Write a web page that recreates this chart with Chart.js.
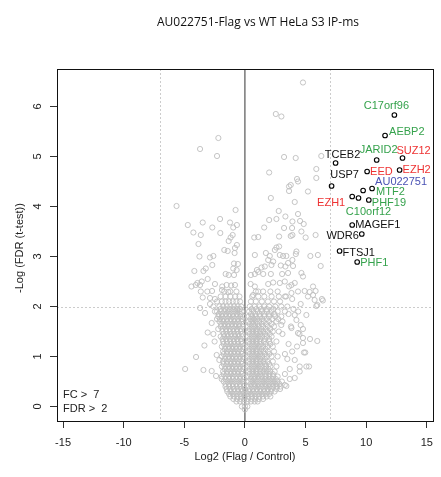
<!DOCTYPE html>
<html>
<head>
<meta charset="utf-8">
<script src="https://cdn.jsdelivr.net/npm/chart.js@4.4.0/dist/chart.umd.min.js"></script>
<style>
html,body{margin:0;padding:0;background:#fff;}
#grafico{display:block;}
</style>
</head>
<body>
<canvas id="grafico" width="441" height="477"></canvas>
<script>
// ****************** DATOS ******************
var tituloGrafico = "AU022751-Flag vs WT HeLa S3 IP-ms";
var tituloX = "Log2 (Flag / Control)";
var tituloY = "-Log (FDR (t-test))";
var xTicks = [-15, -10, -5, 0, 5, 10, 15];
var yTicks = [0, 1, 2, 3, 4, 5, 6];
var fcCorte = 7;
var fdrCorte = 2;

// proteinas destacadas
var hitNames  = ["C17orf96","AEBP2","JARID2","SUZ12","TCEB2","EED","EZH2","USP7","MTF2","AU022751","EZH1","C10orf12","PHF19","MAGEF1","WDR6","FTSJ1","PHF1"];
var hitX      = [12.33, 11.56, 10.87, 13.0, 7.48, 10.08, 12.76, 7.15, 10.49, 9.75, 8.85, 9.37, 10.22, 8.85, 9.64, 7.81, 9.26];
var hitY      = [5.83, 5.42, 4.93, 4.97, 4.87, 4.70, 4.73, 4.41, 4.36, 4.32, 4.20, 4.17, 4.13, 3.63, 3.45, 3.11, 2.89];
var hitGroups = ["verde","verde","verde","rojo","negro","rojo","rojo","negro","verde","azul","rojo","verde","verde","negro","negro","negro","verde"];

// resto de proteinas (puntos dispersos)
var scatterPoints = [
  [4.79,6.48],[2.55,5.85],[3.01,5.80],[-2.19,5.37],[-3.70,5.15],[-2.30,5.01],[3.23,4.99],[4.19,4.97],[6.30,5.01],
  [2.0,4.68],[5.89,4.75],[5.89,4.57],[4.30,4.55],[4.38,4.50],[3.78,4.43],[3.64,4.40],
  [-5.64,4.01],[-4.71,3.63],[-3.48,3.68],[-4.25,3.48],[-3.64,3.43],[-2.69,3.58],[-2.05,3.75],[-2.03,3.47],
  [-1.23,3.68],[-0.96,3.58],[-0.66,3.63],[-0.77,3.93],[-1.01,3.43],
  [3.64,4.31],[5.2,4.30],[2.14,4.17],[4.11,4.09],[2.79,3.91],[3.34,3.80],[4.38,3.85],[2.0,3.73],[2.6,3.75],
  [3.92,3.70],[4.55,3.71],[4.85,3.65],[1.59,3.58],[3.23,3.57],[3.89,3.57],[3.92,3.43],[4.66,3.50],[5.83,3.43],
  [5.01,3.38],[0.77,3.38],[1.10,3.39],[2.82,3.40],[3.78,3.41],[2.6,3.18],[2.82,3.20],[2.47,3.13],[1.73,3.07],
  [2.05,3.01],[2.88,3.03],[3.15,3.01],[3.42,3.01],[4.25,3.10],[4.2,3.05],[0.82,3.03],[5.40,3.01],[6.02,3.03],
  [1.92,2.93],[2.33,2.90],[3.92,2.93],[3.56,2.87],[1.37,2.78],[1.64,2.80],[0.99,2.73],[1.10,2.69],[2.19,2.83],
  [2.96,2.82],[3.34,2.80],[3.97,2.81],[6.25,2.81],[0.49,2.63],[0.82,2.65],[1.51,2.65],[2.14,2.65],[3.07,2.65],
  [3.56,2.67],[4.66,2.67],[4.79,2.60],[0.47,2.45],[0.82,2.40],[1.92,2.45],[2.33,2.48],[2.88,2.47],[3.29,2.50],
  [3.84,2.43],[4.11,2.47],[3.64,2.40],[5.62,2.40],[4.93,2.31],[5.34,2.29],[5.83,2.31],[4.38,2.30],[3.84,2.27],
  [6.35,2.15],[5.75,2.13],[5.20,2.20],[1.1,2.3],[0.68,2.23],[5.89,2.01],[5.62,2.23],[6.43,2.12],
  [-1.18,3.38],[-1.34,3.31],[-3.83,3.25],[-0.66,3.23],[-0.82,3.17],[-1.70,3.13],[-1.42,3.11],[-0.85,3.07],
  [-3.75,3.0],[-2.60,3.01],[-2.88,2.98],[-2.69,2.83],[-0.90,2.86],[-0.58,2.85],[-3.23,2.76],[-3.42,2.71],
  [-4.17,2.71],[-0.96,2.76],[-0.68,2.73],[-1.59,2.65],[-1.34,2.63],[-0.90,2.63],[-3.07,2.55],[-3.56,2.50],
  [-3.92,2.47],[-4.41,2.40],[-4.05,2.43],[-3.70,2.43],[-2.47,2.45],[-1.87,2.40],[-1.51,2.43],[-1.13,2.42],
  [-0.82,2.43],[-3.10,2.30],[-3.64,2.30],[-2.71,2.31],[-1.89,2.33],[-1.37,2.29],[-3.48,2.18],[-2.88,2.17],[-2.47,2.15],
  [-3.70,1.97],[-3.29,1.87],[-2.74,1.67],[-3.07,1.48],[-2.60,1.45],[-3.34,1.22],[-4.03,0.99],[-4.93,0.75],
  [-3.42,0.73],[-2.74,0.71],[-2.38,0.61],[-1.92,0.55],[-2.33,1.03],[-2.11,0.93],[-2.47,1.90],[-2.88,2.05],
  [-2.5,1.3],[-2.2,1.55],[-2.3,1.75],[-2.6,2.0],
  [5.97,2.03],[5.37,1.35],[5.97,1.31],[4.87,1.08],[4.98,1.08],[5.07,0.80],[5.29,0.80],[4.52,0.80],[4.52,0.70],
  [4.79,1.55],[4.6,1.63],[5.07,1.83],[4.25,1.73],[4.79,1.27],[4.11,0.93],[4.11,0.57],[3.42,0.41],[3.29,0.43],
  [4.79,1.37],[4.4,1.9],[4.0,1.95],[3.8,1.6],[3.6,1.25],[3.9,1.1],[3.5,0.95],[3.7,0.75],[3.3,0.65],[4.3,1.2],
  [4.5,1.45],[3.6,1.85],[3.9,2.15],[4.6,2.05],[3.3,2.2],[3.1,1.45],[3.3,1.05],[2.9,0.35],[3.7,0.55],
  [3.0,1.63],[3.84,1.57],[4.38,1.47],[4.11,1.83]
];

// nube densa cerca del origen, fila por fila
var corePoints = [
  [0.0,-0.06],[-0.25,0.0],[0.0,0.0],[0.2,0.0],
  [-0.7,0.1],[-0.4,0.1],[-0.1,0.1],[0.2,0.1],[0.5,0.1],[0.8,0.1],[1.05,0.1],
  [-1.2,0.2],[-0.9,0.2],[-0.6,0.2],[-0.3,0.2],[0.0,0.2],[0.3,0.2],[0.6,0.2],[0.9,0.2],[1.2,0.2],[1.5,0.2],[1.8,0.2],[2.1,0.2],
  [-1.45,0.3],[-1.15,0.3],[-0.85,0.3],[-0.55,0.3],[-0.25,0.3],[0.05,0.3],[0.35,0.3],[0.65,0.3],[0.95,0.3],[1.25,0.3],[1.55,0.3],[1.85,0.3],[2.15,0.3],[2.45,0.3],
  [-1.6,0.4],[-1.3,0.4],[-1.0,0.4],[-0.7,0.4],[-0.4,0.4],[-0.1,0.4],[0.25,0.4],[0.55,0.4],[0.85,0.4],[1.15,0.4],[1.45,0.4],[1.75,0.4],[2.05,0.4],[2.35,0.4],[2.65,0.4],[2.95,0.4],
  [-1.75,0.5],[-1.45,0.5],[-1.15,0.5],[-0.85,0.5],[-0.55,0.5],[-0.25,0.5],[0.3,0.5],[0.6,0.5],[0.9,0.5],[1.2,0.5],[1.5,0.5],[1.8,0.5],[2.1,0.5],[2.4,0.5],[2.7,0.5],[3.05,0.5],
  [-1.9,0.6],[-1.6,0.6],[-1.3,0.6],[-1.0,0.6],[-0.7,0.6],[-0.4,0.6],[-0.12,0.6],[0.25,0.6],[0.55,0.6],[0.85,0.6],[1.15,0.6],[1.45,0.6],[1.75,0.6],[2.05,0.6],[2.35,0.6],[2.7,0.6],
  [-1.8,0.7],[-1.5,0.7],[-1.2,0.7],[-0.9,0.7],[-0.6,0.7],[-0.3,0.7],[0.3,0.7],[0.6,0.7],[0.9,0.7],[1.2,0.7],[1.5,0.7],[1.8,0.7],[2.1,0.7],[2.45,0.7],
  [-1.9,0.8],[-1.6,0.8],[-1.3,0.8],[-1.0,0.8],[-0.7,0.8],[-0.4,0.8],[-0.12,0.8],[0.25,0.8],[0.55,0.8],[0.85,0.8],[1.15,0.8],[1.45,0.8],[1.75,0.8],[2.1,0.8],[2.6,0.8],
  [-1.8,0.9],[-1.5,0.9],[-1.2,0.9],[-0.9,0.9],[-0.6,0.9],[-0.3,0.9],[0.3,0.9],[0.6,0.9],[0.9,0.9],[1.2,0.9],[1.5,0.9],[1.85,0.9],[2.3,0.9],
  [-1.9,1.0],[-1.6,1.0],[-1.3,1.0],[-1.0,1.0],[-0.7,1.0],[-0.4,1.0],[-0.12,1.0],[0.25,1.0],[0.55,1.0],[0.85,1.0],[1.15,1.0],[1.45,1.0],[1.8,1.0],[2.2,1.0],[2.7,1.0],
  [-1.8,1.1],[-1.5,1.1],[-1.2,1.1],[-0.9,1.1],[-0.6,1.1],[-0.3,1.1],[0.3,1.1],[0.6,1.1],[0.9,1.1],[1.2,1.1],[1.5,1.1],[1.9,1.1],[2.4,1.1],
  [-1.9,1.2],[-1.6,1.2],[-1.3,1.2],[-1.0,1.2],[-0.7,1.2],[-0.4,1.2],[-0.12,1.2],[0.25,1.2],[0.55,1.2],[0.85,1.2],[1.15,1.2],[1.5,1.2],[1.85,1.2],[2.3,1.2],
  [-1.8,1.3],[-1.5,1.3],[-1.2,1.3],[-0.9,1.3],[-0.6,1.3],[-0.3,1.3],[0.3,1.3],[0.6,1.3],[0.9,1.3],[1.2,1.3],[1.55,1.3],[2.0,1.3],[2.6,1.3],
  [-2.0,1.4],[-1.7,1.4],[-1.4,1.4],[-1.1,1.4],[-0.8,1.4],[-0.5,1.4],[-0.2,1.4],[0.25,1.4],[0.55,1.4],[0.85,1.4],[1.15,1.4],[1.45,1.4],[1.8,1.4],[2.2,1.4],
  [-1.85,1.5],[-1.55,1.5],[-1.25,1.5],[-0.95,1.5],[-0.65,1.5],[-0.35,1.5],[0.3,1.5],[0.6,1.5],[0.9,1.5],[1.2,1.5],[1.5,1.5],[1.85,1.5],[2.3,1.5],[2.8,1.5],
  [-2.0,1.6],[-1.7,1.6],[-1.4,1.6],[-1.1,1.6],[-0.8,1.6],[-0.5,1.6],[-0.2,1.6],[0.25,1.6],[0.55,1.6],[0.85,1.6],[1.15,1.6],[1.5,1.6],[1.9,1.6],[2.4,1.6],
  [-2.1,1.7],[-1.8,1.7],[-1.5,1.7],[-1.2,1.7],[-0.9,1.7],[-0.6,1.7],[-0.3,1.7],[0.3,1.7],[0.6,1.7],[0.9,1.7],[1.2,1.7],[1.55,1.7],[2.0,1.7],[2.6,1.7],[3.1,1.7],
  [-2.2,1.8],[-1.9,1.8],[-1.6,1.8],[-1.3,1.8],[-1.0,1.8],[-0.7,1.8],[-0.4,1.8],[-0.15,1.8],[0.3,1.8],[0.6,1.8],[0.9,1.8],[1.25,1.8],[1.6,1.8],[2.0,1.8],[2.5,1.8],[3.0,1.8],
  [-2.3,1.9],[-2.0,1.9],[-1.7,1.9],[-1.4,1.9],[-1.1,1.9],[-0.8,1.9],[-0.5,1.9],[-0.25,1.9],[0.35,1.9],[0.7,1.9],[1.05,1.9],[1.4,1.9],[1.8,1.9],[2.2,1.9],[2.7,1.9],[3.3,1.9],
  [-2.1,2.0],[-1.8,2.0],[-1.5,2.0],[-1.2,2.0],[-0.9,2.0],[-0.6,2.0],[-0.3,2.0],[0.4,2.0],[0.8,2.0],[1.2,2.0],[1.6,2.0],[2.0,2.0],[2.5,2.0],[3.0,2.0],[3.5,2.0],
  [-2.3,2.1],[-1.9,2.1],[-1.6,2.1],[-1.3,2.1],[-1.0,2.1],[-0.7,2.1],[-0.4,2.1],[0.5,2.1],[0.9,2.1],[1.4,2.1],[1.9,2.1],[2.4,2.1],[2.9,2.1],
  [-2.0,2.2],[-1.6,2.2],[-1.2,2.2],[-0.8,2.2],[-0.45,2.2],[0.6,2.2],[1.1,2.2],[1.6,2.2],[2.2,2.2],[2.8,2.2],[3.4,2.2],
  [-1.7,2.3],[-1.2,2.3],[-0.7,2.3],[0.9,2.3],[1.5,2.3],[2.1,2.3],[2.7,2.3]
];

// segunda capa de la nube, entre las filas anteriores
var coreFill = [
  [-0.95,0.15],[-0.65,0.15],[-0.35,0.15],[-0.05,0.15],[0.25,0.15],[0.55,0.15],[0.85,0.15],[1.15,0.15],[1.5,0.15],
  [-1.3,0.25],[-1.0,0.25],[-0.7,0.25],[-0.4,0.25],[-0.1,0.25],[0.2,0.25],[0.5,0.25],[0.8,0.25],[1.1,0.25],[1.4,0.25],[1.7,0.25],[2.0,0.25],
  [-1.5,0.35],[-1.2,0.35],[-0.9,0.35],[-0.6,0.35],[-0.3,0.35],[0.0,0.35],[0.4,0.35],[0.7,0.35],[1.0,0.35],[1.3,0.35],[1.6,0.35],[1.9,0.35],[2.2,0.35],[2.6,0.35],
  [-1.6,0.45],[-1.3,0.45],[-1.0,0.45],[-0.7,0.45],[-0.4,0.45],[-0.1,0.45],[0.45,0.45],[0.75,0.45],[1.05,0.45],[1.35,0.45],[1.65,0.45],[1.95,0.45],[2.25,0.45],[2.55,0.45],[2.85,0.45],
  [-1.6,0.55],[-1.3,0.55],[-1.0,0.55],[-0.7,0.55],[-0.4,0.55],[-0.1,0.55],[0.45,0.55],[0.75,0.55],[1.05,0.55],[1.35,0.55],[1.65,0.55],[1.95,0.55],[2.25,0.55],[2.55,0.55],
  [-1.75,0.65],[-1.45,0.65],[-1.15,0.65],[-0.85,0.65],[-0.55,0.65],[-0.25,0.65],[0.4,0.65],[0.7,0.65],[1.0,0.65],[1.3,0.65],[1.65,0.65],[2.0,0.65],[2.3,0.65],
  [-1.65,0.75],[-1.35,0.75],[-1.05,0.75],[-0.75,0.75],[-0.45,0.75],[-0.15,0.75],[0.4,0.75],[0.7,0.75],[1.0,0.75],[1.3,0.75],[1.65,0.75],[1.95,0.75],
  [-1.75,0.85],[-1.45,0.85],[-1.15,0.85],[-0.85,0.85],[-0.55,0.85],[-0.25,0.85],[0.4,0.85],[0.7,0.85],[1.0,0.85],[1.3,0.85],[1.65,0.85],[2.0,0.85],
  [-1.65,0.95],[-1.35,0.95],[-1.05,0.95],[-0.75,0.95],[-0.45,0.95],[-0.15,0.95],[0.4,0.95],[0.7,0.95],[1.0,0.95],[1.3,0.95],[1.65,0.95],
  [-1.75,1.05],[-1.45,1.05],[-1.15,1.05],[-0.85,1.05],[-0.55,1.05],[-0.25,1.05],[0.4,1.05],[0.7,1.05],[1.0,1.05],[1.3,1.05],[1.65,1.05],[2.0,1.05],
  [-1.65,1.15],[-1.35,1.15],[-1.05,1.15],[-0.75,1.15],[-0.45,1.15],[-0.15,1.15],[0.4,1.15],[0.7,1.15],[1.0,1.15],[1.35,1.15],[1.7,1.15],
  [-1.75,1.25],[-1.45,1.25],[-1.15,1.25],[-0.85,1.25],[-0.55,1.25],[-0.25,1.25],[0.4,1.25],[0.7,1.25],[1.0,1.25],[1.3,1.25],[1.7,1.25],[2.1,1.25],
  [-1.85,1.35],[-1.55,1.35],[-1.25,1.35],[-0.95,1.35],[-0.65,1.35],[-0.35,1.35],[0.4,1.35],[0.7,1.35],[1.0,1.35],[1.3,1.35],[1.65,1.35],[2.0,1.35],
  [-1.75,1.45],[-1.45,1.45],[-1.15,1.45],[-0.85,1.45],[-0.55,1.45],[-0.25,1.45],[0.4,1.45],[0.7,1.45],[1.0,1.45],[1.3,1.45],[1.65,1.45],[2.05,1.45],
  [-1.85,1.55],[-1.55,1.55],[-1.25,1.55],[-0.95,1.55],[-0.65,1.55],[-0.35,1.55],[0.4,1.55],[0.7,1.55],[1.0,1.55],[1.35,1.55],[1.7,1.55],[2.1,1.55],
  [-1.95,1.65],[-1.65,1.65],[-1.35,1.65],[-1.05,1.65],[-0.75,1.65],[-0.45,1.65],[-0.15,1.65],[0.4,1.65],[0.7,1.65],[1.05,1.65],[1.4,1.65],[1.75,1.65],[2.2,1.65],
  [-2.05,1.75],[-1.75,1.75],[-1.45,1.75],[-1.15,1.75],[-0.85,1.75],[-0.55,1.75],[-0.25,1.75],[0.45,1.75],[0.75,1.75],[1.05,1.75],[1.4,1.75],[1.8,1.75],[2.25,1.75],[2.75,1.75],
  [-2.15,1.85],[-1.85,1.85],[-1.55,1.85],[-1.25,1.85],[-0.95,1.85],[-0.65,1.85],[-0.35,1.85],[0.5,1.85],[0.85,1.85],[1.2,1.85],[1.6,1.85],[2.0,1.85],[2.45,1.85],
  [-2.0,1.95],[-1.6,1.95],[-1.25,1.95],[-0.95,1.95],[-0.65,1.95],[-0.4,1.95],[0.55,1.95],[0.95,1.95],[1.35,1.95],[1.8,1.95],[2.35,1.95]
];

// ****************** ESTILOS ******************
var coloresGrupo = { verde: "#35a24c", rojo: "#ee3131", azul: "#4a52b4", negro: "#111111" };
// desplazamiento de cada etiqueta respecto a su punto (px) y alineacion
var posEtiquetas = {
  "C17orf96": [-8, -9, "center"], "AEBP2": [4, -4, "left"], "JARID2": [2, -10, "center"],
  "SUZ12": [11, -7, "center"], "TCEB2": [7, -8, "center"], "EED": [3, 0, "left"],
  "EZH2": [3, 0, "left"], "USP7": [13, -11, "center"], "MTF2": [4, 3, "left"],
  "AU022751": [12, -9, "left"], "EZH1": [-7, 6, "right"], "C10orf12": [10, 14, "center"],
  "PHF19": [3, 3, "left"], "MAGEF1": [3, 0, "left"], "WDR6": [-3, 1.5, "right"],
  "FTSJ1": [3, 1.5, "left"], "PHF1": [3, 1, "left"]
};
var fuente = "'Liberation Sans', Arial, sans-serif";

function aPuntos(lista){
  return lista.map(function(p){ return {x: p[0], y: p[1]}; });
}
var hitPuntos = hitX.map(function(v, i){ return {x: v, y: hitY[i]}; });

// ****************** PLUGIN DE DECORACION ******************
var decorar = {
  id: "decorar",
  beforeDatasetsDraw: function(chart){
    var ctx = chart.ctx, a = chart.chartArea, sx = chart.scales.x, sy = chart.scales.y;
    ctx.save();
    ctx.beginPath(); ctx.rect(a.left, a.top, a.right - a.left, a.bottom - a.top); ctx.clip();
    ctx.strokeStyle = "#cccccc"; ctx.lineWidth = 1; ctx.setLineDash([2, 2]);
    [-fcCorte, fcCorte].forEach(function(v){
      var px = Math.round(sx.getPixelForValue(v)) + 0.5;
      ctx.beginPath(); ctx.moveTo(px, a.top); ctx.lineTo(px, a.bottom); ctx.stroke();
    });
    var py = Math.round(sy.getPixelForValue(fdrCorte)) + 0.5;
    ctx.beginPath(); ctx.moveTo(a.left, py); ctx.lineTo(a.right, py); ctx.stroke();
    ctx.setLineDash([]);
    ctx.strokeStyle = "#555555"; ctx.lineWidth = 1.2;
    var p0 = sx.getPixelForValue(0);
    ctx.beginPath(); ctx.moveTo(p0, a.top); ctx.lineTo(p0, a.bottom); ctx.stroke();
    ctx.restore();
  },
  afterDatasetsDraw: function(chart){
    var ctx = chart.ctx, sx = chart.scales.x, sy = chart.scales.y;
    ctx.save();
    ctx.font = "11px " + fuente;
    ctx.textBaseline = "middle";
    for (var i = 0; i < hitNames.length; i++){
      var pos = posEtiquetas[hitNames[i]];
      ctx.fillStyle = coloresGrupo[hitGroups[i]];
      ctx.textAlign = pos[2];
      ctx.fillText(hitNames[i], sx.getPixelForValue(hitX[i]) + pos[0], sy.getPixelForValue(hitY[i]) + pos[1]);
    }
    ctx.restore();
  },
  afterDraw: function(chart){
    var ctx = chart.ctx, a = chart.chartArea, sy = chart.scales.y;
    ctx.save();
    // caja
    ctx.strokeStyle = "#111"; ctx.lineWidth = 1;
    ctx.strokeRect(Math.round(a.left) + 0.5, Math.round(a.top) + 0.5, Math.round(a.right - a.left), Math.round(a.bottom - a.top));
    // titulo
    ctx.fillStyle = "#111";
    ctx.font = "12px 'Open Sans', sans-serif";
    ctx.textAlign = "center"; ctx.textBaseline = "middle";
    ctx.fillText(tituloGrafico, 258, 23);
    // titulo eje x
    ctx.font = "11px " + fuente;
    ctx.fillStyle = "#222";
    ctx.fillText(tituloX, (a.left + a.right) / 2, 457);
    // etiquetas eje y (rotadas como en R)
    yTicks.forEach(function(v){
      ctx.save();
      ctx.translate(38, sy.getPixelForValue(v));
      ctx.rotate(-Math.PI / 2);
      ctx.fillText(String(v), 0, 0);
      ctx.restore();
    });
    ctx.save();
    ctx.translate(20, (a.top + a.bottom) / 2 + 3);
    ctx.rotate(-Math.PI / 2);
    ctx.fillText(tituloY, 0, 0);
    ctx.restore();
    // leyenda de cortes
    ctx.textAlign = "left";
    ctx.fillText("FC >  " + fcCorte, 63, 395);
    ctx.fillText("FDR >  " + fdrCorte, 63, 409);
    ctx.restore();
  }
};

var ctx = document.getElementById("grafico").getContext("2d");
var myChart = new Chart(ctx, {
  type: "scatter",
  data: {
    datasets: [
      { label: "nube", data: aPuntos(corePoints.concat(coreFill, scatterPoints)), pointRadius: 2.6, pointBorderWidth: 0.9,
        borderColor: "#bebebe", backgroundColor: "rgba(0,0,0,0)", pointHoverRadius: 2.6 },
      { label: "destacadas", data: hitPuntos, pointRadius: 2.3, pointBorderWidth: 1.1,
        borderColor: "#000000", backgroundColor: "rgba(0,0,0,0)", pointHoverRadius: 2.3 }
    ]
  },
  options: {
    responsive: false,
    animation: false,
    events: [],
    layout: { padding: { left: 0, right: 8, top: 69, bottom: 0 } },
    plugins: { legend: { display: false }, tooltip: { enabled: false }, title: { display: false } },
    scales: {
      x: {
        type: "linear", min: -15.5, max: 15.5,
        afterBuildTicks: function(scale){ scale.ticks = xTicks.map(function(v){ return {value: v}; }); },
        afterFit: function(scale){ scale.height = 56; },
        border: { display: false },
        grid: { display: true, drawOnChartArea: false, drawTicks: true, tickLength: 7, tickColor: "#333", tickWidth: 1 },
        ticks: { autoSkip: false, maxRotation: 0, minRotation: 0, padding: 8, color: "#222",
                 font: { family: fuente, size: 11 } }
      },
      y: {
        type: "linear", min: -0.29, max: 6.75,
        afterBuildTicks: function(scale){ scale.ticks = yTicks.map(function(v){ return {value: v}; }); },
        afterFit: function(scale){ scale.width = 57; },
        border: { display: false },
        grid: { display: true, drawOnChartArea: false, drawTicks: true, tickLength: 7, tickColor: "#333", tickWidth: 1 },
        ticks: { display: false }
      }
    }
  },
  plugins: [decorar]
});
</script>
</body>
</html>
